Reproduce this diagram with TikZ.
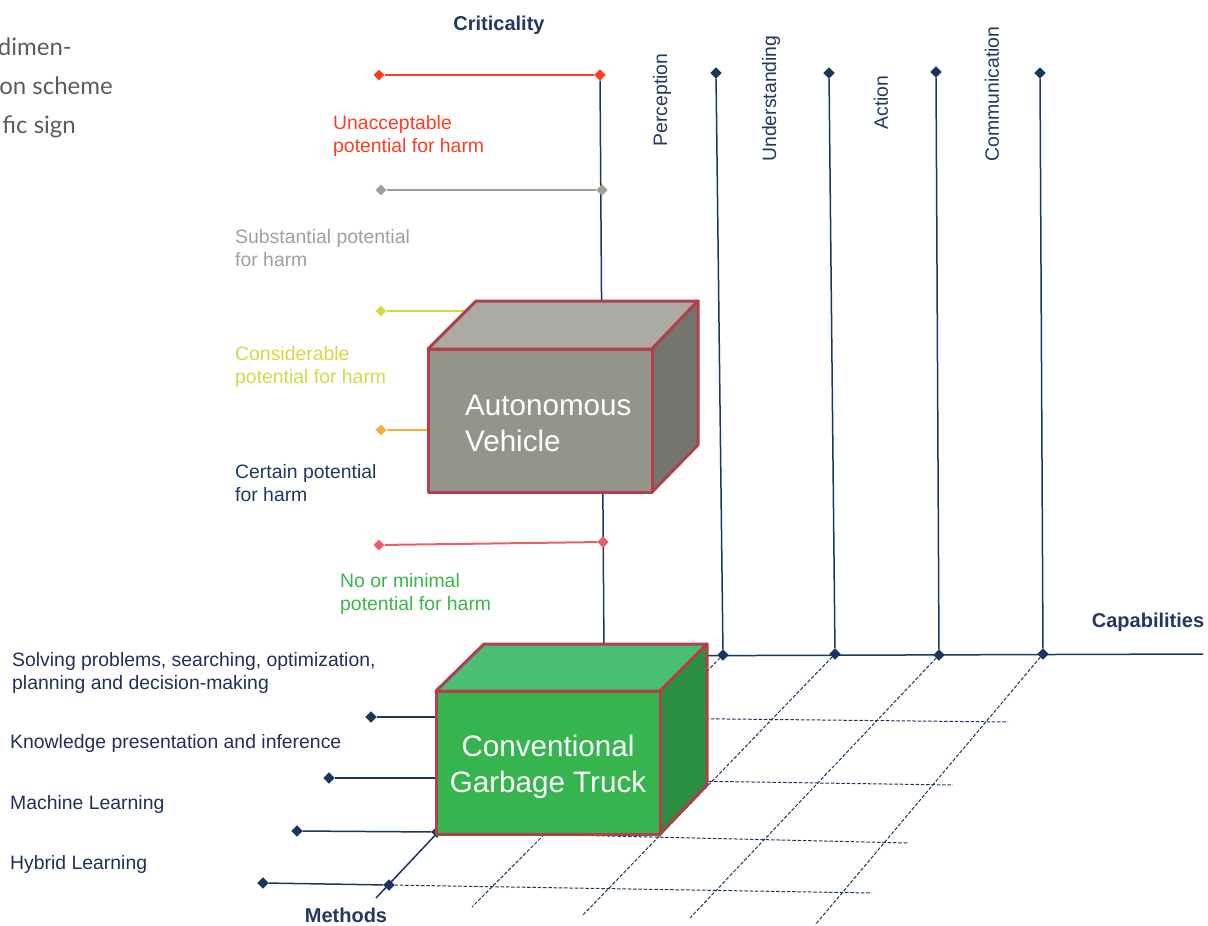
\documentclass[tikz,border=0pt]{standalone}
\usepackage{fontspec}
\setmainfont{Liberation Sans}
\newfontfamily\captionfont{Lato}
\usetikzlibrary{shapes.geometric}

\definecolor{navy}{HTML}{17375E}
\definecolor{navytext}{HTML}{1F3864}
\definecolor{methodtext}{HTML}{1F2F5E}
\definecolor{lvred}{HTML}{FF3B22}
\definecolor{lvgray}{HTML}{A0A09A}
\definecolor{lvyellow}{HTML}{D5D846}
\definecolor{lvorange}{HTML}{FAAE3A}
\definecolor{lvpink}{HTML}{E85E69}
\definecolor{lvgreen}{HTML}{3CB54B}
\definecolor{boxedge}{HTML}{B0414A}
\definecolor{avfront}{HTML}{95948B}
\definecolor{avtop}{HTML}{ABAAA4}
\definecolor{avside}{HTML}{75756F}
\definecolor{gtfront}{HTML}{36B54F}
\definecolor{gttop}{HTML}{4ABF73}
\definecolor{gtside}{HTML}{2A8F41}
\definecolor{captiongray}{HTML}{5A5B5E}

\begin{document}
\begin{tikzpicture}[x=1pt,y=-1pt,
  axis/.style={draw=navy, line width=1.5pt},
  gridline/.style={draw=navy, line width=1pt, dash pattern=on 3.5pt off 1.8pt},
  pin/.style={diamond, fill=#1, draw=none, inner sep=0pt, minimum size=11pt},
  level/.style={draw=#1, line width=2pt},
  lbl/.style={anchor=west, align=left, inner sep=0pt, font=\fontsize{19.4}{23.3}\selectfont},
  caplbl/.style={rotate=90, inner sep=0pt, text=navytext, font=\fontsize{19.4}{23.3}\selectfont},
  axlbl/.style={inner sep=0pt, text=navytext, font=\bfseries\fontsize{20}{24}\selectfont},
  face/.style={draw=boxedge, line width=3pt, line join=round},
  boxtext/.style={text=white, inner sep=0pt, font=\fontsize{29.6}{36}\selectfont},
  captxt/.style={anchor=base east, inner sep=0pt, text=captiongray, font=\captionfont\fontsize{24}{39}\selectfont}
]
\useasboundingbox (0,0) rectangle (1208,926);
\clip (0,0) rectangle (1208,926);

% ---- caption fragment at the left edge
\node[captxt] (capA) at (72,55)  {dimen-};
\node[captxt] (capB) at (113,94) {on scheme};
\node[captxt] (capC) at (76,133) {fic sign};

% ---- axis origin and free ends
\coordinate (O)    at (604,656);
\coordinate (mEnd) at (376,898);
\coordinate (kEnd) at (1203,654);

% ---- capability pins
\node[pin=navy] (pT1) at (716,73) {};
\node[pin=navy] (pT2) at (829,73) {};
\node[pin=navy] (pT3) at (936,72) {};
\node[pin=navy] (pT4) at (1040,73) {};
\node[pin=navy] (pB1) at (723,655) {};
\node[pin=navy] (pB2) at (835,654) {};
\node[pin=navy] (pB3) at (939,655) {};
\node[pin=navy] (pB4) at (1043,654) {};

% ---- method pins
\node[pin=navy] (mL1) at (371,717) {};
\node[pin=navy] (mL2) at (329,778) {};
\node[pin=navy] (mL3) at (297,831) {};
\node[pin=navy] (mL4) at (263,883) {};
\node[pin=navy] (mA1) at (541,717) {};
\node[pin=navy] (mA2) at (486,778) {};
\node[pin=navy] (mA3) at (437,832) {};
\node[pin=navy] (mA4) at (389,885) {};

% ---- free ends of the floor grid
\coordinate (gD1) at (472,907);
\coordinate (gD2) at (583,915);
\coordinate (gD3) at (690,918);
\coordinate (gD4) at (815,925);
\coordinate (gH1) at (1008,722);
\coordinate (gH2) at (953,785);
\coordinate (gH3) at (908,843);
\coordinate (gH4) at (872,893);

% ---- floor grid
\draw[gridline] (pB1) -- (gD1);
\draw[gridline] (pB2) -- (gD2);
\draw[gridline] (pB3) -- (gD3);
\draw[gridline] (pB4) -- (gD4);
\draw[gridline] (mA1) -- (gH1);
\draw[gridline] (mA2) -- (gH2);
\draw[gridline] (mA3) -- (gH3);
\draw[gridline] (mA4) -- (gH4);

% ---- criticality levels
\node[pin=lvred]    (cL1) at (379,75)  {};
\node[pin=lvred]    (cR1) at (600,75)  {};
\node[pin=lvgray]   (cL2) at (381,190) {};
\node[pin=lvgray]   (cR2) at (602,190) {};
\node[pin=lvyellow] (cL3) at (381,311) {};
\node[pin=lvyellow] (cR3) at (603,311) {};
\node[pin=lvorange] (cL4) at (381,430) {};
\node[pin=lvorange] (cR4) at (603,430) {};
\node[pin=lvpink]   (cL5) at (379,545) {};
\node[pin=lvpink]   (cR5) at (603,542) {};
\draw[level=lvred]    (cL1) -- (cR1);
\draw[level=lvgray]   (cL2) -- (cR2);
\draw[level=lvyellow, line width=1.4pt] (cL3) -- (cR3);
\draw[level=lvorange, line width=1.4pt] (cL4) -- (cR4);
\draw[level=lvpink]   (cL5) -- (cR5);

% ---- axes
\draw[axis] (cR1) -- (O);
\draw[axis] (O) -- (kEnd);
\draw[axis] (O) -- (mEnd);
\draw[axis] (pT1) -- (pB1);
\draw[axis] (pT2) -- (pB2);
\draw[axis] (pT3) -- (pB3);
\draw[axis] (pT4) -- (pB4);
\draw[axis] (mL1) -- (mA1);
\draw[axis] (mL2) -- (mA2);
\draw[axis] (mL3) -- (mA3);
\draw[axis] (mL4) -- (mA4);

% re-stamp the pins over the lines
\foreach \p in {pT1,pT2,pT3,pT4,pB1,pB2,pB3,pB4,mL1,mL2,mL3,mL4,mA3,mA4}
  \fill[navy] (\p.north) -- (\p.east) -- (\p.south) -- (\p.west) -- cycle;
\fill[lvred] (cR1.north) -- (cR1.east) -- (cR1.south) -- (cR1.west) -- cycle;
\fill[lvgray] (cR2.north) -- (cR2.east) -- (cR2.south) -- (cR2.west) -- cycle;
\fill[lvpink] (cR5.north) -- (cR5.east) -- (cR5.south) -- (cR5.west) -- cycle;

% ---- Autonomous Vehicle block
\filldraw[face, fill=avtop]   (428,349) -- (476,301) -- (698,301) -- (652,349) -- cycle;
\filldraw[face, fill=avside]  (652,349) -- (698,301) -- (698,445) -- (652,492) -- cycle;
\filldraw[face, fill=avfront] (428,349) rectangle (652,492);
\node[boxtext, anchor=west, align=left] (av) at (465,423) {Autonomous\\Vehicle};

% ---- Conventional Garbage Truck block
\filldraw[face, fill=gttop]   (436,691) -- (484,644) -- (707,644) -- (660,691) -- cycle;
\filldraw[face, fill=gtside]  (660,691) -- (707,644) -- (707,785) -- (660,834) -- cycle;
\filldraw[face, fill=gtfront] (436,691) rectangle (660,834);
\node[boxtext, align=center] (gt) at (548,767) {Conventional\\Garbage Truck};

% ---- axis titles
\node[axlbl] (tCrit) at (499,25)   {Criticality};
\node[axlbl] (tCap)  at (1148,622) {Capabilities};
\node[axlbl] (tMeth) at (346,915)  {Methods};

% ---- capability labels
\node[caplbl] (lPer) at (662,100)  {Perception};
\node[caplbl] (lUnd) at (771,98.5) {Understanding};
\node[caplbl] (lAct) at (881,102.5){Action};
\node[caplbl] (lCom) at (992,94)   {Communication};

% ---- criticality labels
\node[lbl, text=lvred]    (l1) at (333,136) {Unacceptable\\potential for harm};
\node[lbl, text=lvgray]   (l2) at (235,248) {Substantial potential\\for harm};
\node[lbl, text=lvyellow] (l3) at (235,367) {Considerable\\potential for harm};
\node[lbl, text=navytext] (l4) at (235,483) {Certain potential\\for harm};
\node[lbl, text=lvgreen]  (l5) at (340,594) {No or minimal\\potential for harm};

% ---- method labels
\node[lbl, text=methodtext] (n1) at (12,673) {Solving problems, searching, optimization,\\planning and decision-making};
\node[lbl, text=methodtext] (n2) at (10,743) {Knowledge presentation and inference};
\node[lbl, text=methodtext] (n3) at (10,804) {Machine Learning};
\node[lbl, text=methodtext] (n4) at (10,864) {Hybrid Learning};
\end{tikzpicture}
\end{document}
